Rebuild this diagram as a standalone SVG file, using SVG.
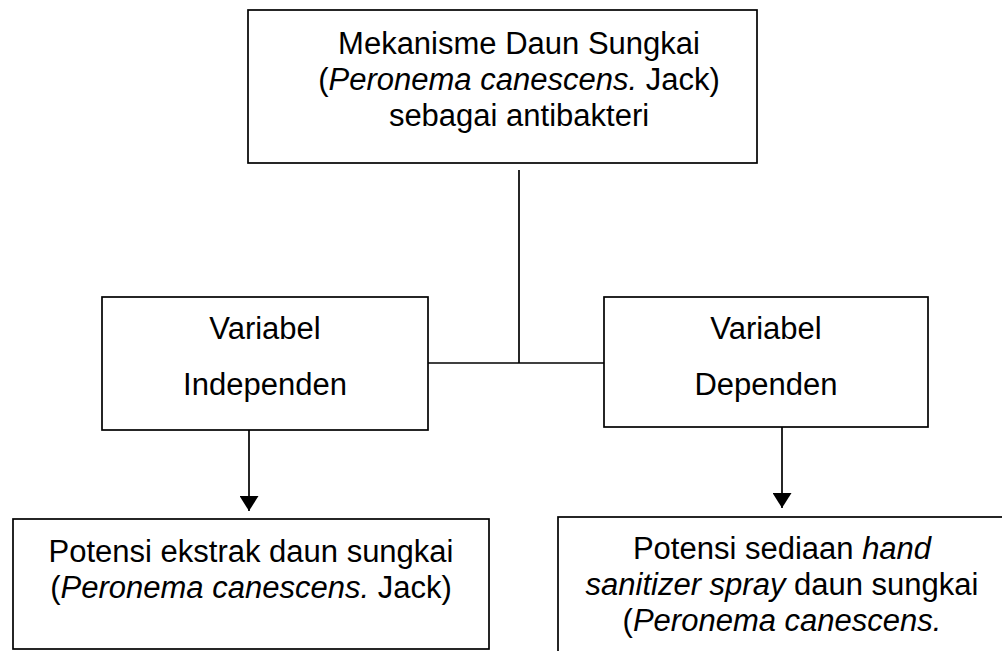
<svg xmlns="http://www.w3.org/2000/svg" width="1002" height="651" viewBox="0 0 1002 651">
<defs>
<style>
.box{fill:#fff;stroke:#000;stroke-width:1.7}
.t{font-family:"Liberation Sans",Arial,sans-serif;font-size:31px;fill:#000;text-anchor:middle}
.i{font-style:italic}
.ln{stroke:#000;stroke-width:1.7;fill:none}
</style>
<marker id="arr" markerUnits="userSpaceOnUse" markerWidth="15" markerHeight="19" viewBox="0 0 15 19" refX="15" refY="9.5" orient="auto">
<path d="M0,0 L15,9.5 L0,19 z" fill="#000"/>
</marker>
</defs>
<rect width="1002" height="651" fill="#fff"/>
<g id="connectors">
<line class="ln" x1="519" y1="170" x2="519" y2="363"/>
<line class="ln" x1="428" y1="363" x2="604" y2="363"/>
<line class="ln" x1="249" y1="430" x2="249" y2="511" marker-end="url(#arr)"/>
<line class="ln" x1="782" y1="427" x2="782" y2="508" marker-end="url(#arr)"/>
</g>
<g id="top">
<rect class="box" x="248" y="10" width="509" height="153"/>
<text class="t" x="519" y="54">Mekanisme Daun Sungkai</text>
<text class="t" x="519" y="90">(<tspan class="i">Peronema canescens.</tspan> Jack)</text>
<text class="t" x="519" y="126">sebagai antibakteri</text>
</g>
<g id="independen">
<rect class="box" x="102" y="297" width="326" height="133"/>
<text class="t" x="265" y="339">Variabel</text>
<text class="t" x="265" y="395">Independen</text>
</g>
<g id="dependen">
<rect class="box" x="604" y="297" width="324" height="130"/>
<text class="t" x="766" y="339">Variabel</text>
<text class="t" x="766" y="395">Dependen</text>
</g>
<g id="ekstrak">
<rect class="box" x="13" y="519" width="476" height="130"/>
<text class="t" x="251" y="562">Potensi ekstrak daun sungkai</text>
<text class="t" x="251" y="598">(<tspan class="i">Peronema canescens.</tspan> Jack)</text>
</g>
<g id="sediaan">
<rect class="box" x="558" y="517" width="470" height="200"/>
<text class="t" x="782" y="559">Potensi sediaan <tspan class="i">hand</tspan></text>
<text class="t" x="782" y="595"><tspan class="i">sanitizer spray</tspan> daun sungkai</text>
<text class="t" x="782" y="631">(<tspan class="i">Peronema canescens.</tspan></text>
</g>
</svg>
